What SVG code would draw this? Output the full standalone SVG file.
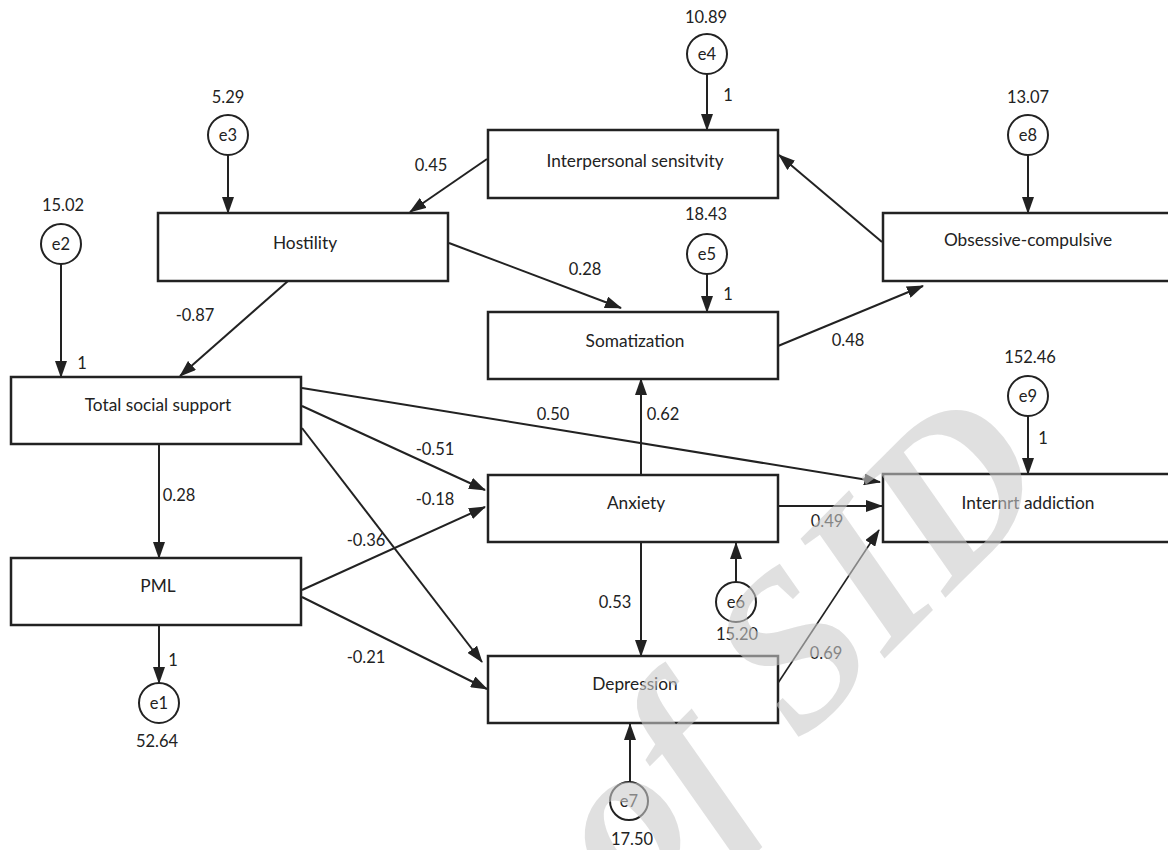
<svg xmlns="http://www.w3.org/2000/svg" width="1168" height="850" viewBox="0 0 1168 850">
<defs>
<style>
.box{fill:#fff;stroke:#222;stroke-width:2.5}
.err{fill:#fff;stroke:#222;stroke-width:2}
.lbl{font-family:Lato,"Liberation Sans",sans-serif;font-size:17.3px;fill:#222;text-anchor:middle}
.num{font-family:Lato,"Liberation Sans",sans-serif;font-size:16.5px;fill:#222;text-anchor:middle}
.con line{stroke:#222;stroke-width:2;marker-end:url(#ah)}
.wm{font-family:"Liberation Serif",serif;font-style:italic;font-weight:bold;font-size:220px;fill:#cbcbcb;fill-opacity:0.59;text-anchor:middle}
</style>
<marker id="ah" markerUnits="userSpaceOnUse" viewBox="0 0 17 12" refX="16" refY="6" markerWidth="17" markerHeight="12" orient="auto">
<path d="M0,0 L17,6 L0,12 z" fill="#222"/>
</marker>
</defs>
<rect width="1168" height="850" fill="#fff"/>

<g class="con" id="connectors">
<line x1="707" y1="74" x2="707" y2="130"/>
<line x1="228" y1="155" x2="228" y2="213"/>
<line x1="1028" y1="155" x2="1028" y2="213"/>
<line x1="61" y1="264" x2="61" y2="377"/>
<line x1="707" y1="274" x2="707" y2="312"/>
<line x1="1028" y1="416" x2="1028" y2="474"/>
<line x1="736" y1="582" x2="736" y2="543"/>
<line x1="630" y1="782" x2="630" y2="724"/>
<line x1="159" y1="625" x2="159" y2="683"/>
<line x1="487" y1="159" x2="410" y2="212"/>
<line x1="882" y1="242" x2="779" y2="155"/>
<line x1="449" y1="243" x2="621" y2="308"/>
<line x1="778" y1="346" x2="923" y2="286"/>
<line x1="288" y1="281" x2="180" y2="376"/>
<line x1="159" y1="444" x2="159" y2="558"/>
<line x1="302" y1="388" x2="880" y2="482"/>
<line x1="302" y1="406" x2="485" y2="490"/>
<line x1="302" y1="428" x2="482" y2="662"/>
<line x1="302" y1="590" x2="485" y2="507"/>
<line x1="302" y1="597" x2="487" y2="689"/>
<line x1="641" y1="475" x2="641" y2="379"/>
<line x1="778" y1="506" x2="882" y2="506"/>
<line x1="641" y1="542" x2="641" y2="656"/>
<line x1="778" y1="683" x2="879" y2="530" style="stroke-width:1.6"/>
</g>

<g id="interpersonal"><rect class="box" x="488" y="130" width="290" height="68"/><text class="lbl" x="635" y="167">Interpersonal sensitvity</text></g>
<g id="hostility"><rect class="box" x="158" y="213" width="290" height="68"/><text class="lbl" x="305" y="249">Hostility</text></g>
<g id="obsessive"><rect class="box" x="883" y="213" width="290" height="68"/><text class="lbl" x="1028" y="246">Obsessive-compulsive</text></g>
<g id="somatization"><rect class="box" x="488" y="312" width="290" height="67"/><text class="lbl" x="635" y="347">Somatization</text></g>
<g id="tss"><rect class="box" x="11" y="377" width="290" height="67"/><text class="lbl" x="158" y="411">Total social support</text></g>
<g id="anxiety"><rect class="box" x="488" y="475" width="290" height="67"/><text class="lbl" x="636" y="509">Anxiety</text></g>
<g id="internet"><rect class="box" x="883" y="474" width="290" height="68"/><text class="lbl" x="1028" y="509">Internrt addiction</text></g>
<g id="pml"><rect class="box" x="11" y="558" width="290" height="67"/><text class="lbl" x="158" y="592">PML</text></g>
<g id="depression"><rect class="box" x="488" y="656" width="290" height="67"/><text class="lbl" x="635" y="690">Depression</text></g>

<g id="e1"><circle class="err" cx="159" cy="703" r="20"/><text class="num" x="159" y="709">e1</text></g>
<g id="e2"><circle class="err" cx="61" cy="244" r="20"/><text class="num" x="61" y="250">e2</text></g>
<g id="e3"><circle class="err" cx="228" cy="135" r="20"/><text class="num" x="228" y="141">e3</text></g>
<g id="e4"><circle class="err" cx="707" cy="54" r="20"/><text class="num" x="707" y="60">e4</text></g>
<g id="e5"><circle class="err" cx="707" cy="254" r="20"/><text class="num" x="707" y="260">e5</text></g>
<g id="e6"><circle class="err" cx="736" cy="602" r="20"/><text class="num" x="736" y="608">e6</text></g>
<g id="e7"><circle class="err" cx="629" cy="801" r="19"/><text class="num" x="629" y="807">e7</text></g>
<g id="e8"><circle class="err" cx="1028" cy="135" r="20"/><text class="num" x="1028" y="141">e8</text></g>
<g id="e9"><circle class="err" cx="1028" cy="396" r="20"/><text class="num" x="1028" y="402">e9</text></g>

<g id="labels">
<text class="num" x="706" y="23">10.89</text>
<text class="num" x="228" y="103">5.29</text>
<text class="num" x="1028" y="103">13.07</text>
<text class="num" x="63" y="211">15.02</text>
<text class="num" x="706" y="220">18.43</text>
<text class="num" x="1030" y="363">152.46</text>
<text class="num" x="737" y="640">15.20</text>
<text class="num" x="157" y="747">52.64</text>
<text class="num" x="632" y="845">17.50</text>
<text class="num" x="728" y="101">1</text>
<text class="num" x="728" y="300">1</text>
<text class="num" x="82" y="369">1</text>
<text class="num" x="1043" y="444">1</text>
<text class="num" x="173" y="666">1</text>
<text class="num" x="431" y="171">0.45</text>
<text class="num" x="585" y="275">0.28</text>
<text class="num" x="195" y="321">-0.87</text>
<text class="num" x="848" y="346">0.48</text>
<text class="num" x="553" y="420">0.50</text>
<text class="num" x="663" y="420">0.62</text>
<text class="num" x="435" y="455">-0.51</text>
<text class="num" x="435" y="505">-0.18</text>
<text class="num" x="179" y="501">0.28</text>
<text class="num" x="827" y="527">0.49</text>
<text class="num" x="366" y="546">-0.36</text>
<text class="num" x="615" y="608">0.53</text>
<text class="num" x="366" y="663">-0.21</text>
<text class="num" x="826" y="659">0.69</text>
</g>

<g id="watermark"><text class="wm" transform="translate(845,698) rotate(-45)">of SID</text></g>
</svg>
